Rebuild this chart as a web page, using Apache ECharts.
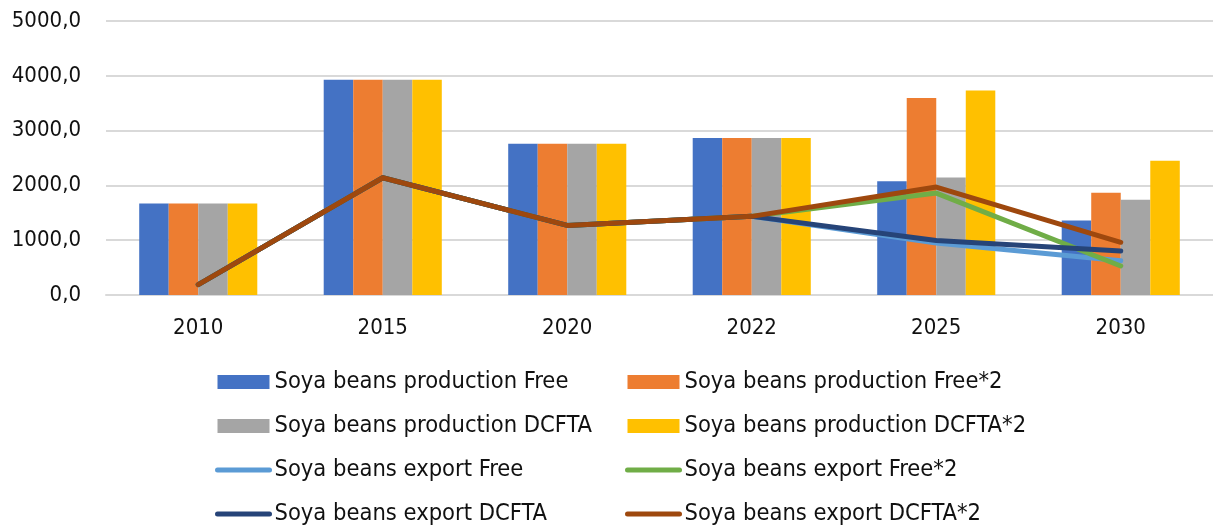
<!DOCTYPE html>
<html>
<head>
<meta charset="utf-8">
<script src="https://cdn.jsdelivr.net/npm/echarts@6/dist/echarts.min.js"></script>
<style>
html, body { margin: 0; padding: 0; background: #fff; }
#main { width: 1213px; height: 528px; }
</style>
</head>
<body>
<div id="main"></div>
<script>
var years = ['2010', '2015', '2020', '2022', '2025', '2030'];
var prodFree   = [1670, 3930, 2760, 2865, 2075, 1360];
var prodFree2  = [1670, 3930, 2760, 2865, 3595, 1865];
var prodDcfta  = [1670, 3930, 2760, 2865, 2145, 1738];
var prodDcfta2 = [1670, 3930, 2760, 2865, 3730, 2450];
var expFree    = [190, 2140, 1270, 1435, 950, 625];
var expFree2   = [190, 2140, 1270, 1435, 1860, 530];
var expDcfta   = [190, 2140, 1270, 1435, 995, 803];
var expDcfta2  = [190, 2140, 1270, 1435, 1970, 962];

var font = '"DejaVu Sans Condensed", "DejaVu Sans", sans-serif';
var chart = echarts.init(document.getElementById('main'));

function bar(name, data, color) {
    return {
        name: name, type: 'bar', data: data,
        barGap: '0%', barCategoryGap: '36%',
        itemStyle: { color: color },
        emphasis: { disabled: true }
    };
}
function line(name, data, color) {
    return {
        name: name, type: 'line', data: data,
        symbol: 'none', z: 5,
        lineStyle: { color: color, width: 5, cap: 'round', join: 'round' },
        itemStyle: { color: color },
        emphasis: { disabled: true }
    };
}
var legendText = { fontFamily: font, fontSize: 23.5, color: '#111' };
// two columns of four, bars first then lines
function legendCol(left, names) {
    return {
        orient: 'vertical', left: left, top: 365, height: 200,
        itemWidth: 52, itemHeight: 14, itemGap: 20,
        textStyle: legendText,
        lineStyle: { width: 5, cap: 'round' },
        data: [
            { name: names[0], icon: 'rect' },
            { name: names[1], icon: 'rect' },
            { name: names[2], itemStyle: { opacity: 0 } },
            { name: names[3], itemStyle: { opacity: 0 } }
        ]
    };
}

chart.setOption({
    animation: false,
    grid: { left: 106, right: 0, top: 21, bottom: 233, containLabel: false },
    legend: [
        legendCol(210, ['Soya beans production Free', 'Soya beans production DCFTA',
                        'Soya beans export Free', 'Soya beans export DCFTA']),
        legendCol(620, ['Soya beans production Free*2', 'Soya beans production DCFTA*2',
                        'Soya beans export Free*2', 'Soya beans export DCFTA*2'])
    ],
    xAxis: {
        type: 'category', data: years,
        axisTick: { show: false },
        axisLine: { lineStyle: { color: '#d9d9d9', width: 2 } },
        axisLabel: { fontFamily: font, fontSize: 22, color: '#111', margin: 22 }
    },
    yAxis: {
        type: 'value', min: 0, max: 5000, interval: 1000,
        axisLine: { show: false },
        axisTick: { show: false },
        splitLine: { lineStyle: { color: '#d9d9d9', width: 2 } },
        axisLabel: {
            fontFamily: font, fontSize: 22, color: '#111', margin: 25,
            formatter: function (v) { return v.toFixed(1).replace('.', ','); }
        }
    },
    series: [
        bar('Soya beans production Free', prodFree, '#4472C4'),
        bar('Soya beans production Free*2', prodFree2, '#ED7D31'),
        bar('Soya beans production DCFTA', prodDcfta, '#A5A5A5'),
        bar('Soya beans production DCFTA*2', prodDcfta2, '#FFC000'),
        line('Soya beans export Free', expFree, '#5B9BD5'),
        line('Soya beans export Free*2', expFree2, '#70AD47'),
        line('Soya beans export DCFTA', expDcfta, '#264478'),
        line('Soya beans export DCFTA*2', expDcfta2, '#9E480E')
    ]
});
</script>
</body>
</html>
